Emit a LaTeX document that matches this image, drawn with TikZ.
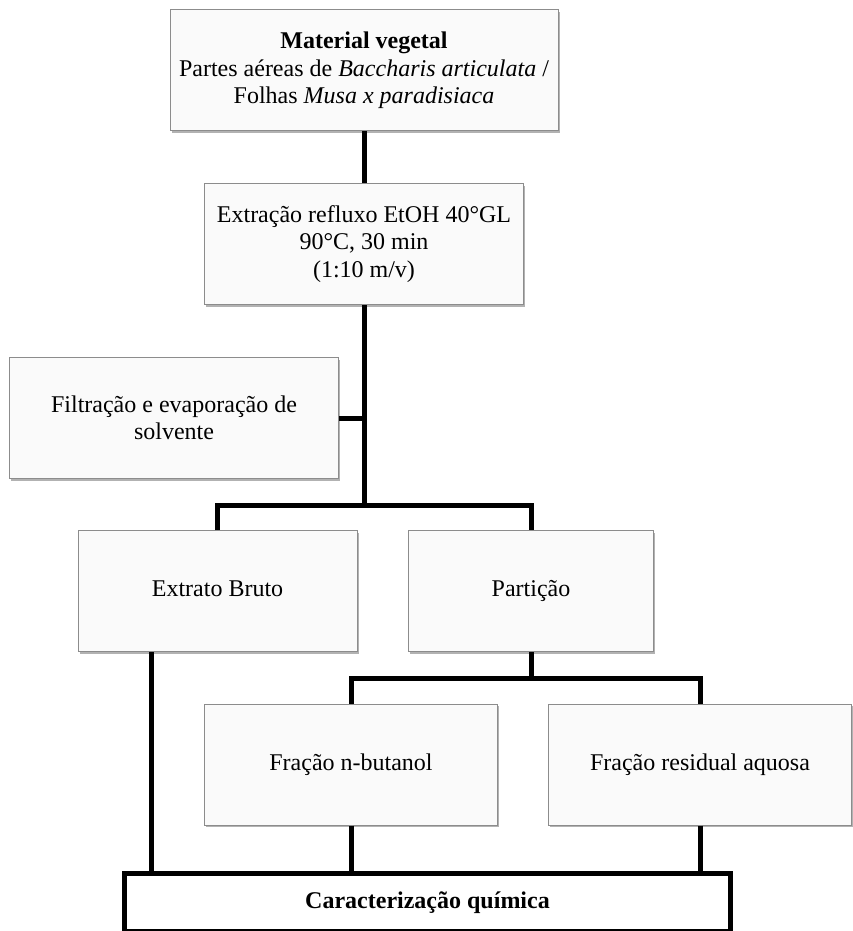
\documentclass[tikz,border=0pt]{standalone}
\usepackage{fontspec}
\setmainfont{Liberation Serif}
\usetikzlibrary{shadows}

\begin{document}
\begin{tikzpicture}
  [x=1pt, y=-1pt,
   box/.style={draw=gray!90, fill=white!98!black, line width=1pt, align=center, inner sep=0pt,
     minimum height=121pt, font=\fontsize{24}{27.5}\selectfont,
     drop shadow={shadow xshift=1.5pt, shadow yshift=-2pt, fill=black, opacity=0.3}},
   oneline/.style={text height=17pt, text depth=6pt},
   link/.style={line width=5pt}]
  \useasboundingbox (0,0) rectangle (852,931);

  \node[box, minimum width=388pt] (mat) at (364,70.5) {\textbf{Material vegetal}\\Partes aéreas de \textit{Baccharis articulata} /\\Folhas \textit{Musa x paradisiaca}};
  \node[box, minimum width=319pt] (ext) at (364,244) {Extração refluxo EtOH 40°GL\\90°C, 30 min\\(1:10 m/v)};
  \node[box, minimum width=329pt] (filt) at (174,418) {Filtração e evaporação de\\solvente};

  \node[box, oneline, minimum width=279pt] (bruto) at (217.5,591) {Extrato Bruto};
  \node[box, oneline, minimum width=245pt] (part) at (531,591) {Partição};
  \node[box, oneline, minimum width=293pt] (but) at (351,764.5) {Fração n-butanol};
  \node[box, oneline, minimum width=303pt] (res) at (700,764.5) {Fração residual aquosa};

  \node[draw, line width=5pt, minimum width=606pt, minimum height=58pt, inner sep=0pt,
    font=\fontsize{24}{27.5}\selectfont\bfseries] (carac) at (427.5,902.5) {Caracterização química};

  \coordinate (split) at (364,505.5);
  \coordinate (split2) at (531,678.5);

  \draw[link] (mat) -- (ext);
  \draw[link] (ext) -- (split);
  \draw[link] (filt.east) -- (filt.east -| split);
  \draw[link] (bruto.north) |- (split) -| (part.north);

  \draw[link] (part) -- (split2);
  \draw[link] (but.north) |- (split2) -| (res.north);

  \draw[link] ([xshift=-66.5pt]bruto.south) -- ([xshift=-66.5pt]bruto.south |- carac.north);
  \draw[link] (but) -- (but |- carac.north);
  \draw[link] (res) -- (res |- carac.north);
\end{tikzpicture}
\end{document}
